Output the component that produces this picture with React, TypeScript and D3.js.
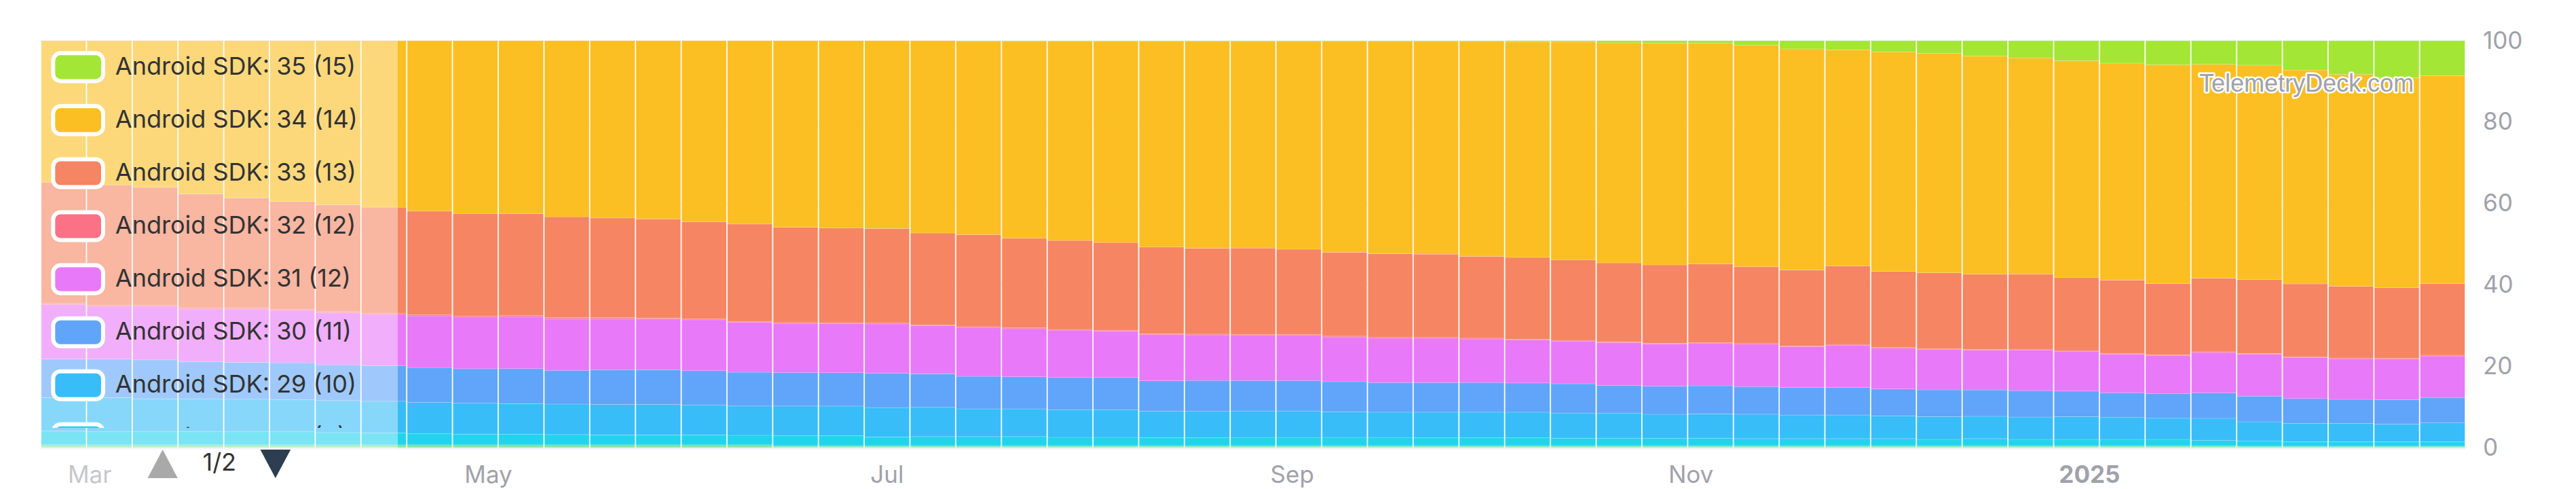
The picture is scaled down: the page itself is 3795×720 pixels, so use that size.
import React from 'react';
import * as d3 from 'd3';

const WIDTH = 3795;
const HEIGHT = 720;

// Weekly categories: Mondays from 2024-02-26 to 2025-02-24 (53 weeks)
const weeks: Date[] = d3.utcMonday.range(new Date(Date.UTC(2024, 1, 26)), new Date(Date.UTC(2025, 1, 25)));

// Series values (% of users per week)
const sdk35 = [0,0,0,0,0,0,0,0,0,0, 0,0,0,0,0,0,0,0,0,0, 0.1,0.1,0.1,0.1,0.1,0.1,0.1,0.1,0.1,0.1, 0.1,0.1,0.2,0.3,0.5,0.6,0.6,1.1,2.0,2.2, 2.7,3.1,3.8,4.2,4.9,5.5,5.9,5.8,6.0,7.2, 8.3,9.1,8.6];
const sdk34 = [34.8,35.5,36.1,37.7,38.7,39.6,40.4,41.0,41.9,42.5, 42.5,43.3,43.6,43.8,44.5,45.0,45.8,46.0,46.0,47.3, 47.5,48.4,48.9,49.4,50.5,50.9,50.9,51.2,51.9,52.3, 52.4,52.9,53.1,53.6,54.1,54.6,54.3,54.5,54.4,53.2, 54.0,54.0,53.7,53.2,53.3,53.4,53.8,52.7,52.7,52.6, 52.1,51.6,51.2];
const sdk33 = [29.8,29.6,29.0,28.0,27.1,26.5,26.3,26.1,25.5,25.2, 25.0,24.8,24.5,24.4,23.9,23.9,23.4,23.3,23.2,22.6, 22.6,22.0,21.8,21.5,21.3,21.1,21.3,21.0,20.6,20.6, 20.5,20.1,20.1,19.8,19.4,19.3,19.4,18.9,18.7,19.3, 18.7,18.7,18.5,18.4,18.0,18.0,17.5,18.1,18.2,17.9, 17.6,17.4,17.6];
const sdk32 = [0.3,0.3,0.3,0.3,0.3,0.3,0.3,0.3,0.3,0.3, 0.3,0.3,0.3,0.2,0.2,0.2,0.2,0.2,0.2,0.2, 0.2,0.2,0.2,0.2,0.2,0.2,0.2,0.2,0.2,0.2, 0.2,0.2,0.2,0.2,0.2,0.2,0.2,0.2,0.2,0.2, 0.2,0.2,0.2,0.2,0.2,0.2,0.2,0.2,0.2,0.2, 0.2,0.2,0.2];
const sdk31 = [13.4,13.0,13.2,13.0,13.1,12.9,12.8,12.6,12.7,12.7, 12.8,12.7,12.6,12.5,12.5,12.3,12.1,12.1,12.1,11.9, 12.0,11.8,11.6,11.4,11.3,11.2,11.1,11.1,11.0,10.9, 10.9,10.7,10.6,10.5,10.5,10.4,10.4,10.4,10.0,10.4, 10.0,9.9,9.8,10.0,9.8,9.5,9.3,9.9,10.3,10.1, 10.0,10.0,10.3];
const sdk30 = [9.5,9.5,9.6,9.1,9.1,9.1,8.8,8.8,8.6,8.5, 8.6,8.3,8.5,8.5,8.5,8.3,8.2,8.2,8.4,8.2, 8.0,7.9,7.9,7.9,7.5,7.6,7.5,7.5,7.4,7.3, 7.3,7.3,7.2,7.2,6.9,6.9,6.9,6.8,6.8,6.8, 6.6,6.6,6.5,6.5,6.3,6.1,6.1,6.3,6.3,6.1, 5.9,6.0,6.1];
const sdk29 = [8.2,8.4,8.1,8.1,8.0,7.9,7.9,7.8,7.7,7.6, 7.5,7.5,7.5,7.5,7.3,7.2,7.3,7.3,7.2,7.2, 6.8,6.8,6.8,6.8,6.5,6.5,6.5,6.5,6.3,6.2, 6.3,6.3,6.3,6.2,6.1,5.9,6.0,6.0,5.8,5.8, 5.6,5.6,5.5,5.5,5.6,5.4,5.2,5.4,4.7,4.5, 4.5,4.3,4.7];
const sdk28 = [3.4,3.2,3.2,3.2,3.2,3.2,3.0,2.9,2.7,2.6, 2.6,2.5,2.4,2.4,2.4,2.3,2.4,2.4,2.1,2.2, 2.2,2.2,2.0,2.0,1.9,1.9,2.0,2.0,2.0,2.0, 1.9,1.9,1.9,1.8,1.8,1.8,1.8,1.7,1.7,1.7, 1.7,1.5,1.7,1.5,1.5,1.5,1.5,1.3,1.3,1.1, 1.1,1.1,1.1];
const sdk27 = [0.2,0.2,0.2,0.2,0.2,0.2,0.2,0.2,0.2,0.2, 0.2,0.2,0.2,0.2,0.2,0.2,0.15,0.15,0.15,0.15, 0.15,0.15,0.15,0.15,0.15,0.15,0.15,0.15,0.15,0.15, 0.15,0.15,0.15,0.15,0.15,0.15,0.15,0.15,0.15,0.15, 0.15,0.15,0.15,0.15,0.15,0.15,0.15,0.15,0.1,0.1, 0.1,0.1,0.1];
const sdk26 = [0.1,0.1,0.1,0.1,0.1,0.1,0.1,0.1,0.1,0.1, 0.1,0.1,0.1,0.1,0.1,0.1,0.1,0.1,0.1,0.1, 0.1,0.1,0.1,0.1,0.1,0.1,0.1,0.1,0.1,0.1, 0.1,0.1,0.1,0.1,0.1,0.1,0.1,0.1,0.1,0.1, 0.1,0.1,0.1,0.1,0.1,0.1,0.1,0.1,0.1,0.1, 0.1,0.1,0.1];
const sdk25 = [0.2,0.2,0.2,0.2,0.2,0.2,0.2,0.2,0.2,0.2, 0.2,0.2,0.2,0.2,0.2,0.2,0.15,0.15,0.15,0.15, 0.15,0.15,0.15,0.15,0.15,0.15,0.15,0.15,0.15,0.15, 0.15,0.15,0.15,0.15,0.15,0.15,0.15,0.15,0.15,0.15, 0.15,0.15,0.15,0.15,0.15,0.15,0.15,0.15,0.1,0.1, 0.1,0.1,0.1];
const sdk24 = [0.2,0.2,0.2,0.2,0.2,0.2,0.2,0.2,0.2,0.2, 0.2,0.2,0.2,0.2,0.2,0.2,0.1,0.1,0.1,0.1, 0.1,0.1,0.1,0.1,0.1,0.1,0.1,0.1,0.1,0.1, 0.1,0.1,0.1,0.1,0.1,0.1,0.1,0.1,0.1,0.1, 0.1,0.1,0.1,0.1,0.1,0.1,0.1,0.1,0.05,0.05, 0.05,0.05,0.05];

// Series keys (bottom to top), legend labels and colours
const seriesKeys = ['sdk24', 'sdk25', 'sdk26', 'sdk27', 'sdk28', 'sdk29', 'sdk30', 'sdk31', 'sdk32', 'sdk33', 'sdk34', 'sdk35'];
const seriesLabels: Record<string, string> = {
  sdk35: 'Android SDK: 35 (15)',
  sdk34: 'Android SDK: 34 (14)',
  sdk33: 'Android SDK: 33 (13)',
  sdk32: 'Android SDK: 32 (12)',
  sdk31: 'Android SDK: 31 (12)',
  sdk30: 'Android SDK: 30 (11)',
  sdk29: 'Android SDK: 29 (10)',
  sdk28: 'Android SDK: 28 (9)',
  sdk27: 'Android SDK: 27 (8.1)',
  sdk26: 'Android SDK: 26 (8.0)',
  sdk25: 'Android SDK: 25 (7.1)',
  sdk24: 'Android SDK: 24 (7.0)',
};
const seriesColors: Record<string, string> = {
  sdk35: '#a3e635',
  sdk34: '#fbbf24',
  sdk33: '#f68563',
  sdk32: '#fb7185',
  sdk31: '#e879f9',
  sdk30: '#60a5fa',
  sdk29: '#38bdf8',
  sdk28: '#22d3ee',
  sdk27: '#2dd4bf',
  sdk26: '#34d399',
  sdk25: '#4ade80',
  sdk24: '#a3e635',
};

const yTicks = [0, 20, 40, 60, 80, 100];
const xTickDates = [
  new Date(Date.UTC(2024, 2, 1)),
  new Date(Date.UTC(2024, 4, 1)),
  new Date(Date.UTC(2024, 6, 1)),
  new Date(Date.UTC(2024, 8, 1)),
  new Date(Date.UTC(2024, 10, 1)),
  new Date(Date.UTC(2025, 0, 1)),
];

const valuesByKey: Record<string, number[]> = {
  sdk24, sdk25, sdk26, sdk27, sdk28, sdk29, sdk30, sdk31, sdk32, sdk33, sdk34, sdk35,
};

const table = weeks.map((w, i) => {
  const row: any = { date: w };
  seriesKeys.forEach((k) => { row[k] = valuesByKey[k][i]; });
  return row;
});

const HALF_WEEK = 3.5 * 24 * 3600 * 1000;

export default function App() {
  const plotLeft = 60;
  const plotRight = 3632;
  const plotTop = 60;
  const plotBottom = 659;

  const x = d3.scaleUtc()
    .domain([new Date(weeks[0].getTime() - HALF_WEEK), new Date(weeks[weeks.length - 1].getTime() + HALF_WEEK)])
    .range([plotLeft, plotRight]);
  const y = d3.scaleLinear().domain([0, 1]).range([plotBottom, plotTop]);

  const stacked = d3.stack<any>()
    .keys(seriesKeys)
    .order(d3.stackOrderNone)
    .offset(d3.stackOffsetExpand)(table);

  const legendKeys = ['sdk35', 'sdk34', 'sdk33', 'sdk32', 'sdk31', 'sdk30', 'sdk29', 'sdk28'];
  const legendStep = 78.07;
  const font = 'Inter, "Noto Sans", sans-serif';

  return (
    <svg width={WIDTH} height={HEIGHT} style={{ position: 'absolute', left: 0, top: 0, background: '#fff' }}>
      <defs>
        <clipPath id="legendClip">
          <rect x={0} y={plotTop} width={600} height={630 - plotTop} />
        </clipPath>
      </defs>
      {/* gridlines */}
      {yTicks.map((t) => (
        <line key={t} x1={plotLeft} x2={plotRight} y1={y(t / 100)} y2={y(t / 100)} stroke="#ededed" strokeWidth={1} />
      ))}
      {/* bars */}
      {stacked.map((layer) => (
        <g key={layer.key} fill={seriesColors[layer.key]}>
          {layer.map((d, i) => {
            const date = d.data.date as Date;
            const x0 = x(new Date(date.getTime() - HALF_WEEK));
            const x1 = x(new Date(date.getTime() + HALF_WEEK));
            const y0 = y(d[0]);
            const y1 = y(d[1]);
            return (
              <rect key={i} x={x0 + 0.8} width={x1 - x0 - 1.6} y={y1} height={Math.max(0, y0 - y1)}
                stroke="rgba(255,255,255,0.22)" strokeWidth={0.8} />
            );
          })}
        </g>
      ))}
      {/* baseline */}
      <rect x={plotLeft} y={plotBottom} width={plotRight - plotLeft} height={2.5} fill="#efeff1" />

      {/* y axis labels */}
      {yTicks.map((t) => (
        <text key={t} x={3658} y={y(t / 100) + 11.5} fontFamily={font} fontSize={35} fill="#a1a1aa">{t}</text>
      ))}
      {/* x axis labels */}
      {xTickDates.map((d, i) => (
        <text key={i} x={x(d)} y={711} textAnchor="middle" fontFamily={font} fontSize={35}
          fill="#a1a1aa" fontWeight={d.getUTCMonth() === 0 ? 700 : 400}>
          {d.getUTCMonth() === 0 ? d3.utcFormat('%Y')(d) : d3.utcFormat('%b')(d)}
        </text>
      ))}

      {/* watermark */}
      <text x={3556} y={134.5} textAnchor="end" fontFamily='"Liberation Sans", Arial, sans-serif' fontSize={36}
        fill="#a1a1aa" stroke="#ffffff" strokeWidth={5} strokeLinejoin="round" style={{ paintOrder: 'stroke' }}>
        TelemetryDeck.com
      </text>

      {/* legend overlay */}
      <rect x={0} y={plotTop} width={586} height={HEIGHT - plotTop} fill="#ffffff" fillOpacity={0.4} />
      <g clipPath="url(#legendClip)">
        {legendKeys.map((k, i) => {
          const top = 78.3 + i * legendStep;
          return (
            <g key={k}>
              <rect x={78.3} y={top} width={73.6} height={41.1} rx={11} fill={seriesColors[k]} stroke="#ffffff" strokeWidth={6} />
              <text x={169.8} y={top + 31.5} fontFamily={font} fontSize={36} fill="#333333">{seriesLabels[k]}</text>
            </g>
          );
        })}
      </g>
      {/* legend pagination */}
      <polygon points="217.5,704 239.6,662 261.8,704" fill="#a9a9a9" />
      <text x={298.5} y={693} fontFamily={font} fontSize={36} fill="#333333">1/2</text>
      <polygon points="383.5,662 428.2,662 405.8,704" fill="#2c3e50" />
    </svg>
  );
}
